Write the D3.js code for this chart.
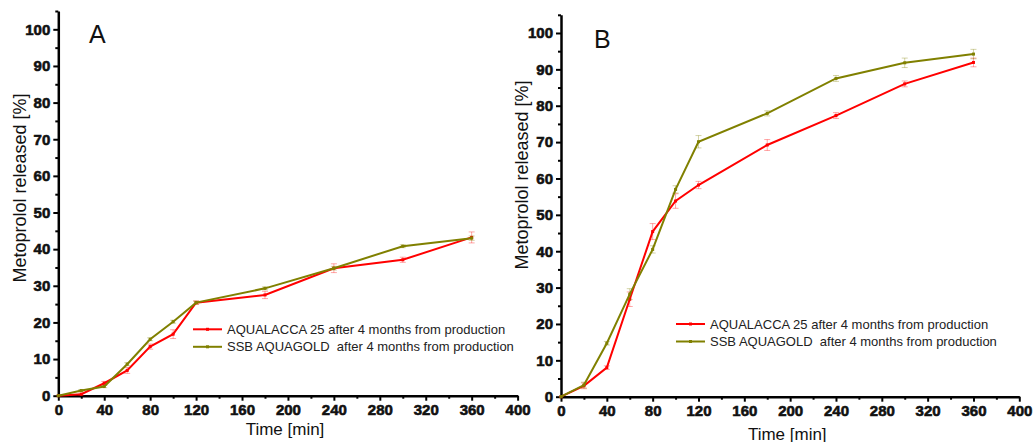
<!DOCTYPE html>
<html>
<head>
<meta charset="utf-8">
<script src="https://cdn.jsdelivr.net/npm/d3@7"></script>
<style>
  body { margin: 0; background: #fff; }
  svg { display: block; font-family: "Liberation Sans", Arial, sans-serif; }
</style>
</head>
<body>
<div id="chart"></div>
<script>
// time points [min]
const times = [0, 20, 40, 60, 80, 100, 120, 180, 240, 300, 360];

// panel A
const aquaA = [0, 0.4, 3.4, 6.9, 13.4, 16.8, 25.4, 27.5, 34.8, 37.1, 43.2];
const aquaErrA = [0, 0.3, 0.5, 0.8, 0.7, 1.2, 0.5, 1.0, 1.2, 0.7, 1.5];
const goldA = [0, 1.4, 2.5, 8.6, 15.4, 20.2, 25.4, 29.3, 34.8, 40.8, 43.0];
const goldErrA = [0, 0.3, 0.3, 0.4, 0.4, 0.4, 0.4, 0.4, 0.5, 0.4, 0.6];

// panel B
const aquaB = [0, 3.0, 8.0, 26.8, 45.4, 53.8, 58.2, 69.2, 77.3, 86.0, 91.9];
const aquaErrB = [0, 0.8, 0.5, 2.0, 2.2, 2.0, 1.0, 1.5, 0.8, 0.8, 1.2];
const goldB = [0, 3.2, 14.7, 28.2, 40.5, 57.0, 70.1, 77.9, 87.5, 91.8, 94.2];
const goldErrB = [0, 0.8, 0.5, 1.5, 1.0, 1.0, 1.7, 0.7, 0.8, 1.3, 1.3];

const seriesNames = ["AQUALACCA 25 after 4 months from production",
                     "SSB AQUAGOLD  after 4 months from production"];
const seriesColors = ["#ff0000", "#808000"];

const xTicks = d3.range(0, 401, 40);
const xMinor = d3.range(20, 400, 40);
const yTicks = d3.range(0, 101, 10);
const yMinor = d3.range(5, 106, 10);

const svg = d3.select("#chart").append("svg")
    .attr("width", 1034)
    .attr("height", 442);

function styleTickText(s) {
    s.selectAll("text")
        .attr("font-size", 15)
        .attr("font-weight", 700)
        .attr("font-family", "Arial, Liberation Sans, sans-serif")
        .attr("fill", "#111")
        .attr("stroke", "#111")
        .attr("stroke-width", 0.6);
}

function drawPanel(p) {
    const x = d3.scaleLinear().domain([0, 400]).range([p.left, p.right]);
    const y = d3.scaleLinear().domain([0, 105]).range([p.bottom, p.top]);
    const g = svg.append("g");

    // minor ticks
    g.append("g")
        .attr("transform", `translate(0,${p.bottom})`)
        .call(d3.axisBottom(x).tickValues(xMinor).tickSize(3).tickFormat("").tickSizeOuter(0))
        .call(s => s.select(".domain").remove())
        .call(s => s.selectAll("line").attr("stroke-width", 2));
    g.append("g")
        .attr("transform", `translate(${p.left},0)`)
        .call(d3.axisLeft(y).tickValues(yMinor).tickSize(3).tickFormat("").tickSizeOuter(0))
        .call(s => s.select(".domain").remove())
        .call(s => s.selectAll("line").attr("stroke-width", 2));

    // major axes
    g.append("g")
        .attr("transform", `translate(0,${p.bottom})`)
        .call(d3.axisBottom(x).tickValues(xTicks).tickSize(5).tickPadding(4).tickSizeOuter(0))
        .call(s => s.select(".domain").attr("stroke-width", 2.5))
        .call(s => s.selectAll("line").attr("stroke-width", 2))
        .call(styleTickText);
    g.append("g")
        .attr("transform", `translate(${p.left},0)`)
        .call(d3.axisLeft(y).tickValues(yTicks).tickSize(5).tickPadding(3).tickSizeOuter(0))
        .call(s => s.select(".domain").attr("stroke-width", 2.5))
        .call(s => s.selectAll("line").attr("stroke-width", 2))
        .call(styleTickText);

    // axis titles
    g.append("text")
        .attr("x", (p.left + x(360)) / 2 + 20)
        .attr("y", p.xTitleY)
        .attr("text-anchor", "middle")
        .attr("font-size", 17)
        .attr("fill", "#111")
        .text("Time [min]");
    g.append("text")
        .attr("transform", `translate(${p.yTitleX},${p.yTitleY}) rotate(-90)`)
        .attr("text-anchor", "middle")
        .attr("font-size", 18)
        .attr("fill", "#111")
        .text("Metoprolol released [%]");

    // panel letter
    g.append("text")
        .attr("x", p.letterX)
        .attr("y", p.letterY)
        .attr("font-size", 25)
        .attr("fill", "#111")
        .text(p.letter);

    const line = d3.line()
        .x((d, i) => x(times[i]))
        .y(d => y(d));

    p.series.forEach((vals, k) => {
        const col = seriesColors[k];
        const errs = p.errors[k];
        // error bars
        const eb = g.append("g").attr("stroke", col).attr("stroke-opacity", 0.35).attr("stroke-width", 1);
        vals.forEach((v, i) => {
            if (!errs[i]) return;
            const cx = x(times[i]);
            eb.append("line").attr("x1", cx).attr("x2", cx).attr("y1", y(v - errs[i])).attr("y2", y(v + errs[i]));
            eb.append("line").attr("x1", cx - 3).attr("x2", cx + 3).attr("y1", y(v - errs[i])).attr("y2", y(v - errs[i]));
            eb.append("line").attr("x1", cx - 3).attr("x2", cx + 3).attr("y1", y(v + errs[i])).attr("y2", y(v + errs[i]));
        });
        g.append("path")
            .datum(vals)
            .attr("fill", "none")
            .attr("stroke", col)
            .attr("stroke-width", 2)
            .attr("d", line);
        g.selectAll(null)
            .data(vals)
            .enter().append("rect")
            .attr("x", (d, i) => x(times[i]) - 1.5)
            .attr("y", d => y(d) - 1.5)
            .attr("width", 3)
            .attr("height", 3)
            .attr("fill", col);
    });

    // legend
    seriesNames.forEach((name, k) => {
        const ly = p.legendY + k * 17.5;
        g.append("line")
            .attr("x1", p.legendX).attr("x2", p.legendX + 29)
            .attr("y1", ly).attr("y2", ly)
            .attr("stroke", seriesColors[k]).attr("stroke-width", 2);
        g.append("rect")
            .attr("x", p.legendX + 13).attr("y", ly - 1.5)
            .attr("width", 3).attr("height", 3)
            .attr("fill", seriesColors[k]);
        g.append("text")
            .attr("x", p.legendX + 34)
            .attr("y", ly + 4.5)
            .attr("font-size", 13)
            .attr("fill", "#222")
            .style("white-space", "pre")
            .text(name);
    });
}

drawPanel({
    left: 58.3, right: 517.6, bottom: 395.7, top: 11,
    letter: "A", letterX: 89, letterY: 43,
    xTitleY: 435, yTitleX: 26, yTitleY: 188,
    legendX: 193, legendY: 329.3,
    series: [aquaA, goldA], errors: [aquaErrA, goldErrA]
});

drawPanel({
    left: 561, right: 1019.3, bottom: 396.7, top: 14.8,
    letter: "B", letterX: 594, letterY: 48,
    xTitleY: 440, yTitleX: 528, yTitleY: 175,
    legendX: 676, legendY: 324,
    series: [aquaB, goldB], errors: [aquaErrB, goldErrB]
});
</script>
</body>
</html>
